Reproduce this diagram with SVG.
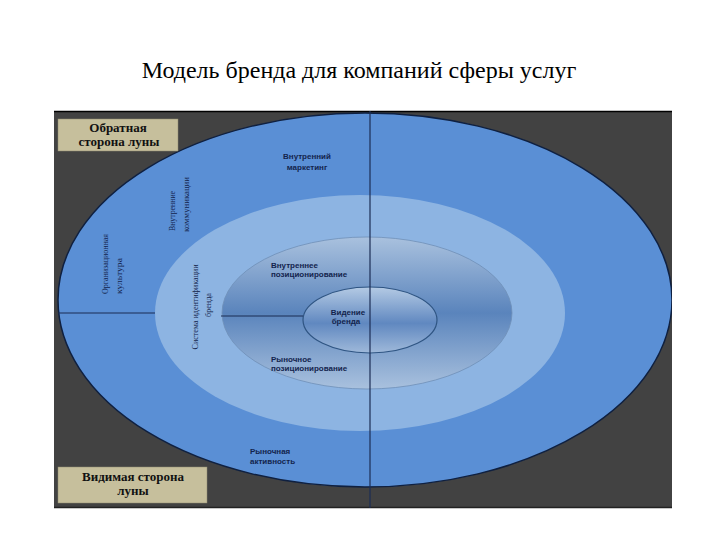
<svg xmlns="http://www.w3.org/2000/svg" width="720" height="540" viewBox="0 0 720 540">
<defs>
<clipPath id="frame"><rect x="54" y="111" width="618" height="397"/></clipPath>
<linearGradient id="g3" x1="0" y1="0" x2="0" y2="1">
<stop offset="0" stop-color="#a9c1de"/>
<stop offset="0.5" stop-color="#5a84bc"/>
<stop offset="1" stop-color="#a9c1de"/>
</linearGradient>
<linearGradient id="g4" x1="0" y1="0" x2="0" y2="1">
<stop offset="0" stop-color="#b4cae4"/>
<stop offset="0.55" stop-color="#6088c0"/>
<stop offset="1" stop-color="#9fb9da"/>
</linearGradient>
<style>
.title{font-family:"Liberation Serif","DejaVu Serif",serif;font-size:24px;fill:#000;text-anchor:middle}
.lbl{font-family:"Liberation Sans","DejaVu Sans",sans-serif;font-weight:bold;font-size:8px;fill:#13244d}
.vt{font-family:"Liberation Serif","DejaVu Serif",serif;font-size:9px;fill:#13244d}
.box{fill:#c6bf9c;stroke:#8f8a70;stroke-width:0.5}
.bt{font-family:"Liberation Serif","DejaVu Serif",serif;font-weight:bold;font-size:13px;fill:#111;text-anchor:middle}
.ln{stroke:#1b2d55;stroke-width:1.2;fill:none}
</style>
</defs>
<rect width="720" height="540" fill="#ffffff"/>
<text class="title" x="359" y="78">Модель бренда для компаний сферы услуг</text>
<g id="background">
<rect x="54" y="111" width="618" height="397" fill="#424242"/>
<line x1="54" y1="111.5" x2="672" y2="111.5" stroke="#000" stroke-width="1.5"/>
<line x1="54" y1="507.5" x2="672" y2="507.5" stroke="#222" stroke-width="1.5"/>
</g>
<g clip-path="url(#frame)">
<g id="outer"><ellipse cx="365" cy="300" rx="307" ry="187" fill="#5a8fd5" stroke="#0f2040" stroke-width="1.5"/></g>
<g id="ring"><ellipse cx="360" cy="313" rx="205" ry="118" fill="#8db4e2"/></g>
<g id="position"><ellipse cx="367" cy="313" rx="145" ry="76" fill="url(#g3)" stroke="#6f8fb8" stroke-width="0.8"/></g>
<g id="vision"><ellipse cx="370" cy="320" rx="67" ry="33" fill="url(#g4)" stroke="#2f5583" stroke-width="1.2"/></g>
</g>
<g id="connectors">
<line class="ln" x1="370" y1="111" x2="370" y2="508"/>
<line class="ln" x1="58" y1="313" x2="155" y2="313"/>
<line class="ln" x1="221" y1="316" x2="303" y2="316"/>
</g>
<g id="back-side">
<rect class="box" x="58" y="119" width="120" height="32"/>
<text class="bt" x="118" y="132">Обратная</text>
<text class="bt" x="119" y="146">сторона луны</text>
</g>
<g id="visible-side">
<rect class="box" x="58" y="467" width="149" height="36"/>
<text class="bt" x="133" y="481">Видимая сторона</text>
<text class="bt" x="133" y="495">луны</text>
</g>
<g id="internal-marketing">
<text class="lbl" x="307" y="159" text-anchor="middle">Внутренний</text>
<text class="lbl" x="307" y="170" text-anchor="middle">маркетинг</text>
</g>
<g id="internal-communications">
<text class="vt" transform="translate(175,231) rotate(-90)" textLength="40" lengthAdjust="spacingAndGlyphs">Внутренние</text>
<text class="vt" transform="translate(189,232) rotate(-90)" textLength="55" lengthAdjust="spacingAndGlyphs">коммуникации</text>
</g>
<g id="org-culture">
<text class="vt" transform="translate(108,294) rotate(-90)" textLength="60" lengthAdjust="spacingAndGlyphs">Организационная</text>
<text class="vt" transform="translate(122,294) rotate(-90)" textLength="36" lengthAdjust="spacingAndGlyphs">культура</text>
</g>
<g id="identity-system">
<text class="vt" transform="translate(198,307) rotate(-90)" text-anchor="middle" textLength="85" lengthAdjust="spacingAndGlyphs">Система идентификации</text>
<text class="vt" transform="translate(211,305) rotate(-90)" text-anchor="middle" textLength="24" lengthAdjust="spacingAndGlyphs">бренда</text>
</g>
<g id="internal-positioning">
<text class="lbl" x="271" y="268">Внутреннее</text>
<text class="lbl" x="271" y="277">позиционирование</text>
</g>
<g id="brand-vision">
<text class="lbl" x="348" y="315" text-anchor="middle">Видение</text>
<text class="lbl" x="346" y="324" text-anchor="middle">бренда</text>
</g>
<g id="market-positioning">
<text class="lbl" x="271" y="362">Рыночное</text>
<text class="lbl" x="271" y="371">позиционирование</text>
</g>
<g id="market-activity">
<text class="lbl" x="250" y="454">Рыночная</text>
<text class="lbl" x="250" y="464">активность</text>
</g>
</svg>
